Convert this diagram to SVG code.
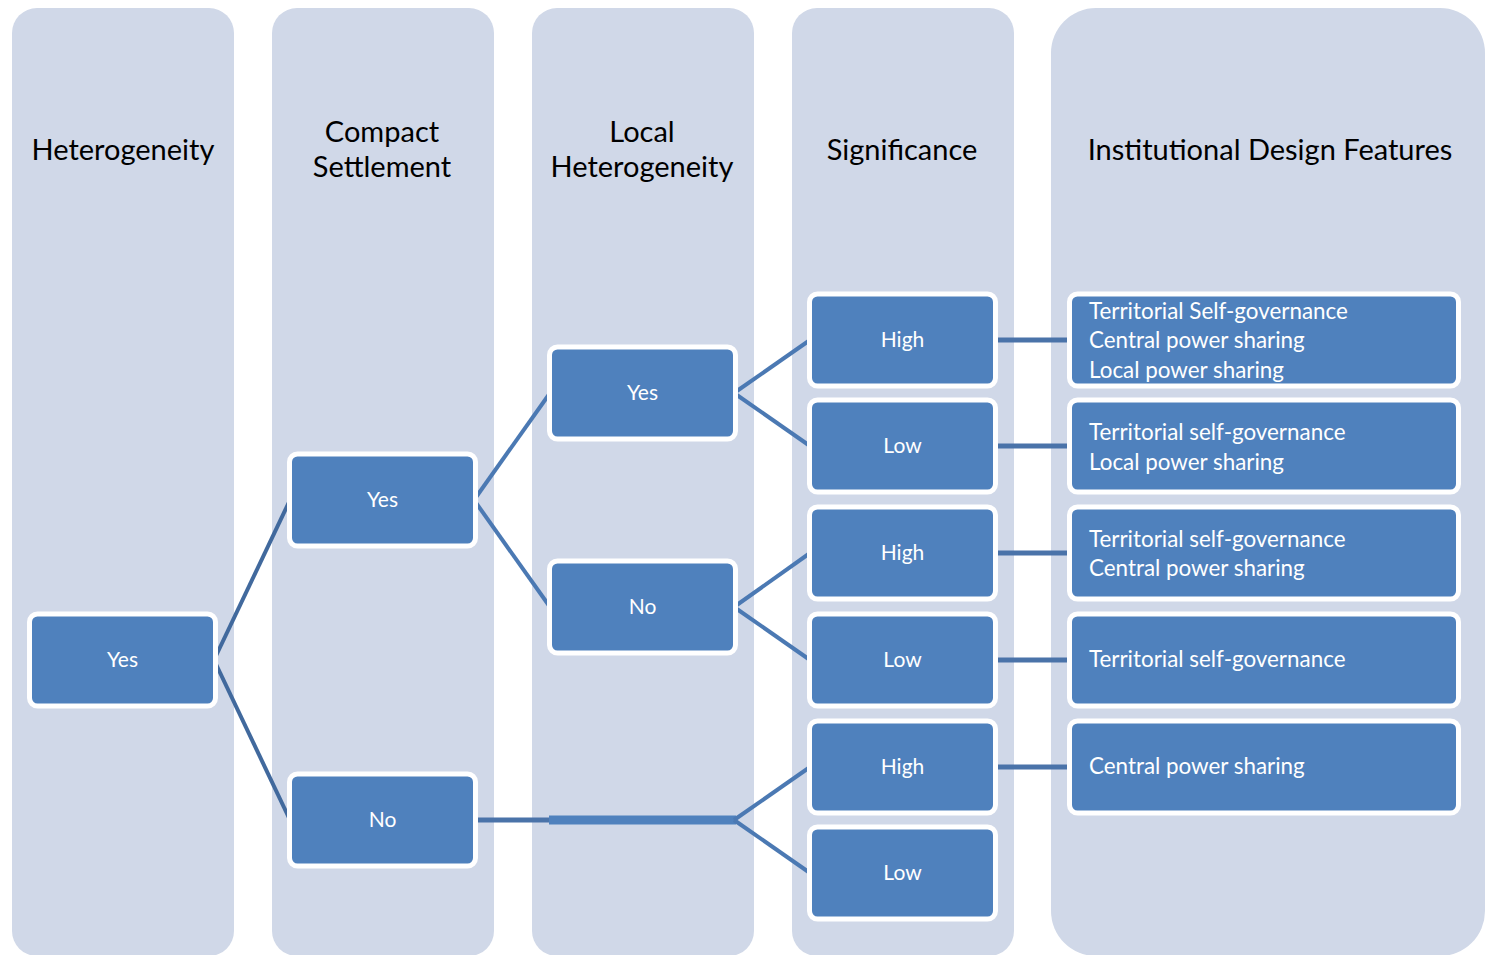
<svg xmlns="http://www.w3.org/2000/svg" width="1485" height="955" viewBox="0 0 1485 955">
<style>
.col{fill:#d0d8e8}
.node rect{fill:#4f81bd;stroke:#fff;stroke-width:5}
.title{font-family:Lato,"Liberation Sans",sans-serif;font-size:29px;fill:#000;text-anchor:middle}
.lbl{font-family:Lato,"Liberation Sans",sans-serif;font-size:21px;fill:#fff;text-anchor:middle}
.feat{font-family:Lato,"Liberation Sans",sans-serif;font-size:22.4px;fill:#fff}
.c1{stroke:#41699d;stroke-width:4;fill:none}
.c2{stroke:#4b79b3;stroke-width:4;fill:none}
.c3{stroke:#4a73a9;stroke-width:5;fill:none}
</style>
<rect width="1485" height="955" fill="#fff"/>
<g id="columns">
<rect class="col" x="12" y="8" width="222" height="948" rx="25"/>
<rect class="col" x="272" y="8" width="222" height="948" rx="25"/>
<rect class="col" x="532" y="8" width="222" height="948" rx="25"/>
<rect class="col" x="792" y="8" width="222" height="948" rx="25"/>
<path class="col" d="M1096 8 H1440 A45 45 0 0 1 1485 53 V911 A45 45 0 0 1 1440 956 H1096 A45 45 0 0 1 1051 911 V53 A45 45 0 0 1 1096 8 Z"/>
</g>
<g id="titles">
<text class="title" x="123" y="160">Heterogeneity</text>
<text class="title" x="382" y="142">Compact</text>
<text class="title" x="382" y="177">Settlement</text>
<text class="title" x="642" y="142">Local</text>
<text class="title" x="642" y="177">Heterogeneity</text>
<text class="title" x="902" y="160">Significance</text>
<text class="title" x="1270" y="160">Institutional Design Features</text>
</g>
<g id="connectors">
<line class="c1" x1="214" y1="660" x2="290" y2="500"/>
<line class="c1" x1="214" y1="660" x2="290" y2="820"/>
<line class="c2" x1="474" y1="500" x2="550" y2="393"/>
<line class="c2" x1="474" y1="500" x2="550" y2="607"/>
<line class="c2" x1="734" y1="393" x2="810" y2="340"/>
<line class="c2" x1="734" y1="393" x2="810" y2="446"/>
<line class="c2" x1="734" y1="607" x2="810" y2="553"/>
<line class="c2" x1="734" y1="607" x2="810" y2="660"/>
<line class="c3" x1="476" y1="820" x2="550" y2="820"/>
<line x1="549" y1="820" x2="736" y2="820" stroke="#4f81bd" stroke-width="9"/>
<line class="c2" x1="734" y1="820" x2="810" y2="767"/>
<line class="c2" x1="734" y1="820" x2="810" y2="873"/>
<line class="c3" x1="995" y1="340" x2="1069" y2="340"/>
<line class="c3" x1="995" y1="446" x2="1069" y2="446"/>
<line class="c3" x1="995" y1="553" x2="1069" y2="553"/>
<line class="c3" x1="995" y1="660" x2="1069" y2="660"/>
<line class="c3" x1="995" y1="767" x2="1069" y2="767"/>
</g>
<g id="n-het-yes" class="node"><rect x="29.5" y="614" width="186" height="92" rx="8"/><text class="lbl" x="122.5" y="667">Yes</text></g>
<g id="n-cs-yes" class="node"><rect x="289.5" y="454" width="186" height="92" rx="8"/><text class="lbl" x="382.5" y="507">Yes</text></g>
<g id="n-cs-no" class="node"><rect x="289.5" y="774" width="186" height="92" rx="8"/><text class="lbl" x="382.5" y="827">No</text></g>
<g id="n-lh-yes" class="node"><rect x="549.5" y="347" width="186" height="92" rx="8"/><text class="lbl" x="642.5" y="400">Yes</text></g>
<g id="n-lh-no" class="node"><rect x="549.5" y="561" width="186" height="92" rx="8"/><text class="lbl" x="642.5" y="614">No</text></g>
<g id="n-s1" class="node"><rect x="809.5" y="294" width="186" height="92" rx="8"/><text class="lbl" x="902.5" y="347">High</text></g>
<g id="n-s2" class="node"><rect x="809.5" y="400" width="186" height="92" rx="8"/><text class="lbl" x="902.5" y="453">Low</text></g>
<g id="n-s3" class="node"><rect x="809.5" y="507" width="186" height="92" rx="8"/><text class="lbl" x="902.5" y="560">High</text></g>
<g id="n-s4" class="node"><rect x="809.5" y="614" width="186" height="92" rx="8"/><text class="lbl" x="902.5" y="667">Low</text></g>
<g id="n-s5" class="node"><rect x="809.5" y="721" width="186" height="92" rx="8"/><text class="lbl" x="902.5" y="774">High</text></g>
<g id="n-s6" class="node"><rect x="809.5" y="827" width="186" height="92" rx="8"/><text class="lbl" x="902.5" y="880">Low</text></g>
<g id="n-f1" class="node"><rect x="1069.5" y="294" width="389" height="92" rx="8"/>
<text class="feat" x="1089" y="319">Territorial Self-governance</text>
<text class="feat" x="1089" y="348">Central power sharing</text>
<text class="feat" x="1089" y="378">Local power sharing</text></g>
<g id="n-f2" class="node"><rect x="1069.5" y="400" width="389" height="92" rx="8"/>
<text class="feat" x="1089" y="440">Territorial self-governance</text>
<text class="feat" x="1089" y="470">Local power sharing</text></g>
<g id="n-f3" class="node"><rect x="1069.5" y="507" width="389" height="92" rx="8"/>
<text class="feat" x="1089" y="547">Territorial self-governance</text>
<text class="feat" x="1089" y="576">Central power sharing</text></g>
<g id="n-f4" class="node"><rect x="1069.5" y="614" width="389" height="92" rx="8"/>
<text class="feat" x="1089" y="667">Territorial self-governance</text></g>
<g id="n-f5" class="node"><rect x="1069.5" y="721" width="389" height="92" rx="8"/>
<text class="feat" x="1089" y="774">Central power sharing</text></g>
</svg>
